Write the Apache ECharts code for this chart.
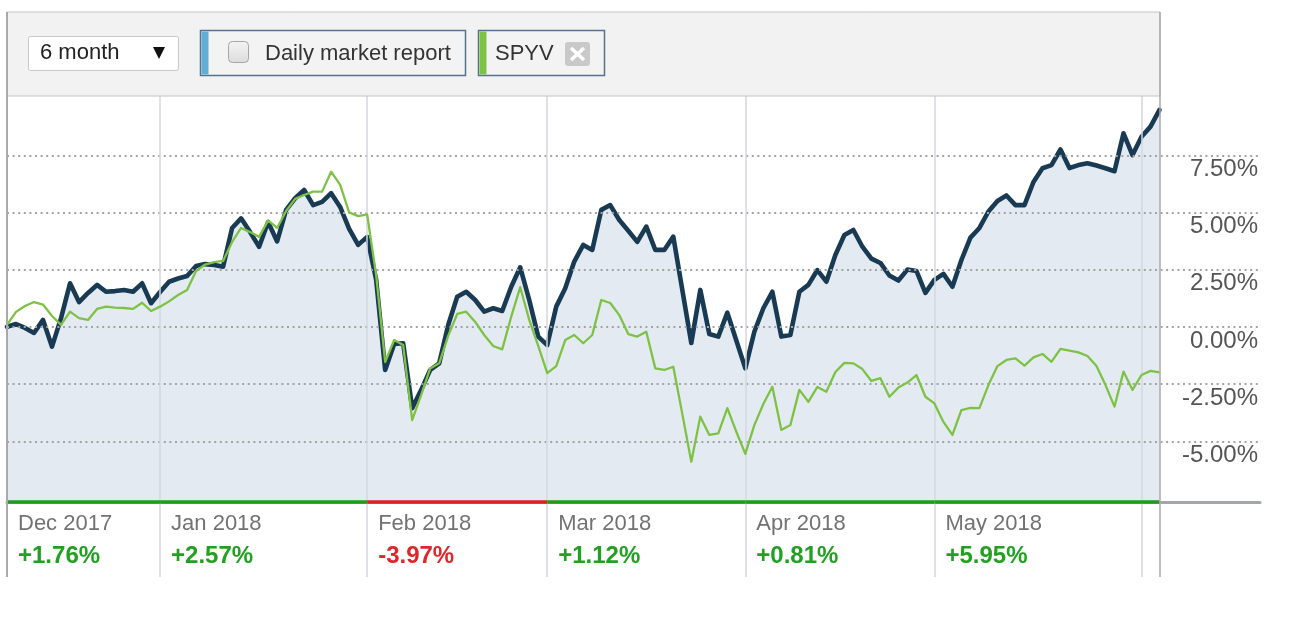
<!DOCTYPE html>
<html><head><meta charset="utf-8">
<script src="https://cdn.jsdelivr.net/npm/echarts@6/dist/echarts.min.js"></script>
<style>html,body{margin:0;padding:0;background:#fff;}#c{width:1307px;height:634px;}</style>
</head><body><div id="c"></div>
<script>
// Cumulative return (%) per trading session
const fundReturn = [
0.01,0.13,-0.04,-0.26,0.31,-0.86,0.39,1.91,1.09,1.49,
1.84,1.54,1.57,1.62,1.54,1.91,1.04,1.53,1.98,2.12,
2.23,2.67,2.75,2.71,2.64,4.33,4.75,4.15,3.51,4.59,
3.74,5.12,5.63,5.99,5.33,5.47,5.85,5.25,4.29,3.59,
3.94,2.06,-1.88,-0.74,-0.71,-3.55,-2.75,-1.88,-1.59,0.09,
1.32,1.54,1.18,0.67,0.82,0.70,1.76,2.61,1.18,-0.42,
-0.79,0.89,1.69,2.86,3.59,3.37,5.12,5.33,4.68,4.21,
3.72,4.39,3.37,3.37,3.95,1.62,-0.70,1.62,-0.31,-0.42,
0.63,-0.59,-1.81,-0.21,0.82,1.54,-0.42,-0.35,1.54,1.84,
2.49,1.98,3.15,4.02,4.24,3.51,2.99,2.80,2.25,2.03,
2.51,2.45,1.49,2.06,2.32,1.76,2.93,3.91,4.33,5.05,
5.51,5.75,5.33,5.33,6.34,6.94,7.08,7.76,6.95,7.08,
7.16,7.06,6.94,6.81,8.47,7.52,8.32,8.76,9.49];
const spyvReturn = [
0.09,0.66,0.92,1.09,0.98,0.48,0.09,0.67,0.39,0.31,
0.79,0.89,0.85,0.83,0.79,1.06,0.70,0.89,1.12,1.40,
1.62,2.45,2.73,2.84,2.89,3.72,4.33,4.15,3.94,4.66,
4.33,5.07,5.60,5.77,5.92,5.92,6.79,6.21,5.01,4.85,
4.92,2.27,-1.53,-0.57,-0.79,-4.07,-2.97,-1.81,-1.59,-0.39,
0.57,0.67,0.22,-0.35,-0.83,-0.98,0.45,1.74,0.31,-0.83,
-2.02,-1.71,-0.57,-0.35,-0.71,-0.35,1.18,1.05,0.52,-0.31,
-0.42,-0.21,-1.81,-1.88,-1.74,-3.80,-5.89,-3.92,-4.72,-4.65,
-3.55,-4.58,-5.55,-4.29,-3.37,-2.61,-4.50,-4.29,-2.75,-3.27,
-2.62,-2.83,-1.97,-1.57,-1.59,-1.84,-2.36,-2.24,-3.05,-2.65,
-2.43,-2.10,-3.05,-3.34,-4.15,-4.72,-3.63,-3.54,-3.55,-2.54,
-1.71,-1.44,-1.37,-1.69,-1.33,-1.18,-1.52,-0.96,-1.03,-1.11,
-1.27,-1.71,-2.54,-3.48,-1.95,-2.75,-2.10,-1.92,-1.98];
// session index where each month begins
const monthStarts = [0, 17, 40, 60, 82, 103];
const monthNames = ['Dec 2017','Jan 2018','Feb 2018','Mar 2018','Apr 2018','May 2018'];
const monthChanges = [1.76, 2.57, -3.97, 1.12, 0.81, 5.95];
const monthLines = [17, 40, 60, 82, 103, 126];
const yTicks = [-5, -2.5, 0, 2.5, 5, 7.5];

const FONT = '"Liberation Sans", Arial, sans-serif';
const lastIdx = fundReturn.length - 1;
const fundData = fundReturn.map((v, i) => [i, v]);
const spyvData = spyvReturn.map((v, i) => [i, v]);
const yMin = -7.652, yMax = 10.10;

const hLines = yTicks.map(v => ({
  yAxis: v,
  lineStyle: {type: [2, 3.6], color: '#a3a3a3', width: 2},
  label: {show: true, position: 'insideEndBottom', distance: 2,
    formatter: v.toFixed(2) + '%', color: '#555', fontSize: 24, fontFamily: FONT}
}));
const vLines = monthLines.map(v => ({
  xAxis: v, lineStyle: {type: 'solid', color: '#d3d9e1', width: 1.5}, label: {show: false}
}));
const segs = monthStarts.map((s, i) => {
  const e = i + 1 < monthStarts.length ? monthStarts[i + 1] : lastIdx;
  const col = monthChanges[i] >= 0 ? '#1f9c1f' : '#dd1f26';
  return [{coord: [s, yMin], lineStyle: {color: col, width: 3.5, type: 'solid'}}, {coord: [e, yMin]}];
});

const chart = echarts.init(document.getElementById('c'), null, {renderer: 'canvas'});
chart.setOption({
  animation: false,
  backgroundColor: '#fff',
  grid: {left: 7, right: 47, top: 96, bottom: 132, containLabel: false},
  xAxis: {
    type: 'value', min: 0, max: 139.16, position: 'bottom',
    axisLine: {show: true, onZero: false, lineStyle: {color: '#a3a7ac', width: 3}},
    axisTick: {show: true, customValues: monthLines, length: 75, lineStyle: {color: '#d3d9e1', width: 1.5}},
    splitLine: {show: false},
    axisLabel: {
      show: true, customValues: monthStarts, align: 'left', margin: 5, hideOverlap: false,
      padding: [0, 0, 0, 11],
      formatter: function (val) {
        const k = monthStarts.indexOf(Math.round(val));
        if (k < 0) return '';
        const c = monthChanges[k];
        const txt = (c >= 0 ? '+' : '') + c.toFixed(2) + '%';
        return '{m|' + monthNames[k] + '}\n{' + (c >= 0 ? 'up' : 'dn') + '|' + txt + '}';
      },
      rich: {
        m: {fontSize: 22, color: '#727272', lineHeight: 33, fontFamily: FONT},
        up: {fontSize: 24, fontWeight: 'bold', color: '#22a022', lineHeight: 33, fontFamily: FONT},
        dn: {fontSize: 24, fontWeight: 'bold', color: '#e0252b', lineHeight: 33, fontFamily: FONT}
      }
    }
  },
  yAxis: {
    type: 'value', min: yMin, max: yMax,
    axisLine: {show: false}, axisTick: {show: false}, axisLabel: {show: false}, splitLine: {show: false}
  },
  series: [
    {name: 'area', type: 'line', data: fundData, z: 1, silent: true, showSymbol: false, symbol: 'none',
      lineStyle: {width: 0, opacity: 0}, areaStyle: {color: '#e4eaf2', opacity: 1, origin: 'start'}},
    {name: 'gridlines', type: 'line', data: fundData, z: 2, silent: true, showSymbol: false, symbol: 'none',
      lineStyle: {width: 0, opacity: 0},
      markLine: {silent: true, symbol: ['none', 'none'], animation: false, data: hLines.concat(vLines)}},
    {name: 'Daily market report', type: 'line', data: fundData, z: 4, showSymbol: false, symbol: 'none',
      lineStyle: {color: '#193a53', width: 4.6, join: 'round', cap: 'round'}},
    {name: 'SPYV', type: 'line', data: spyvData, z: 5, showSymbol: false, symbol: 'none',
      lineStyle: {color: '#7ec245', width: 2.3, join: 'round'}},
    {name: 'monthbar', type: 'line', data: [], z: 6, silent: true,
      markLine: {silent: true, symbol: ['none', 'none'], animation: false, label: {show: false}, data: segs}}
  ],
  graphic: [
    {type: 'rect', silent: true, z: 10, shape: {x: 7, y: 12, width: 1153, height: 84},
      style: {fill: '#f2f2f2', stroke: '#c4c4c4', lineWidth: 1}},
    {type: 'line', silent: true, z: 11, shape: {x1: 7, y1: 12, x2: 7, y2: 577}, style: {stroke: '#a9a9a9', lineWidth: 2}},
    {type: 'line', silent: true, z: 11, shape: {x1: 1160, y1: 12, x2: 1160, y2: 577}, style: {stroke: '#a9a9a9', lineWidth: 1.5}},
    // period selector
    {type: 'rect', silent: true, z: 12, shape: {x: 28.5, y: 36.5, width: 150, height: 34, r: 2},
      style: {fill: '#fff', stroke: '#c8c8c8', lineWidth: 1}},
    {type: 'text', silent: true, z: 13, style: {text: '6 month', x: 40, y: 53, fill: '#222', font: '22px ' + FONT, verticalAlign: 'middle'}},
    {type: 'polygon', silent: true, z: 13, shape: {points: [[153, 47], [165, 47], [159, 59]]}, style: {fill: '#111'}},
    // series button 1
    {type: 'rect', silent: true, z: 12, shape: {x: 200.5, y: 30.5, width: 265, height: 45},
      style: {fill: '#f3f3f3', stroke: '#56728c', lineWidth: 1.5}},
    {type: 'rect', silent: true, z: 13, shape: {x: 201.5, y: 31.5, width: 7, height: 43}, style: {fill: '#63acd4'}},
    {type: 'rect', silent: true, z: 13, shape: {x: 228.5, y: 41.5, width: 20, height: 21, r: 4},
      style: {fill: new echarts.graphic.LinearGradient(0, 0, 0, 1, [{offset: 0, color: '#f4f4f4'}, {offset: 1, color: '#dcdcdc'}]), stroke: '#a6a6a6', lineWidth: 1}},
    {type: 'text', silent: true, z: 13, style: {text: 'Daily market report', x: 265, y: 54, fill: '#333', font: '22px ' + FONT, verticalAlign: 'middle'}},
    // series button 2
    {type: 'rect', silent: true, z: 12, shape: {x: 478.5, y: 30.5, width: 126, height: 45},
      style: {fill: '#f3f3f3', stroke: '#56728c', lineWidth: 1.5}},
    {type: 'rect', silent: true, z: 13, shape: {x: 479.5, y: 31.5, width: 7, height: 43}, style: {fill: '#7ec245'}},
    {type: 'text', silent: true, z: 13, style: {text: 'SPYV', x: 495, y: 54, fill: '#333', font: '22px ' + FONT, verticalAlign: 'middle'}},
    {type: 'rect', silent: true, z: 13, shape: {x: 565, y: 42, width: 25, height: 24, r: 3}, style: {fill: '#c9c9c9'}},
    {type: 'line', silent: true, z: 14, shape: {x1: 571, y1: 48, x2: 584, y2: 60}, style: {stroke: '#fff', lineWidth: 3.5}},
    {type: 'line', silent: true, z: 14, shape: {x1: 584, y1: 48, x2: 571, y2: 60}, style: {stroke: '#fff', lineWidth: 3.5}}
  ]
});
</script></body></html>
